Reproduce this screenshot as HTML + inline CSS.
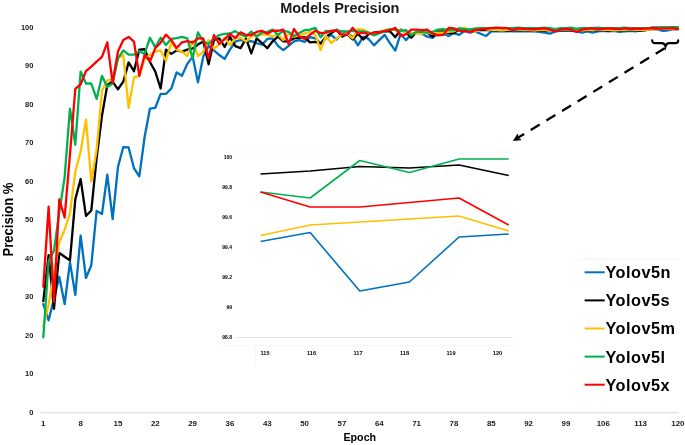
<!DOCTYPE html><html><head><meta charset="utf-8"><style>html,body{margin:0;padding:0;background:#fff;}svg{display:block;will-change:transform;}text{font-family:"Liberation Sans",sans-serif;}</style></head><body>
<svg width="685" height="445" viewBox="0 0 685 445">
<rect width="685" height="445" fill="#fff"/>
<text x="339.8" y="12.8" font-size="14.5" font-weight="bold" text-anchor="middle" fill="#1a1a1a">Models Precision</text>
<text transform="translate(12.9,219.5) rotate(-90) scale(0.92,1)" x="0" y="0" font-size="14.2" font-weight="bold" text-anchor="middle" fill="#000">Precision %</text>
<text x="33.4" y="414.6" font-size="7.5" font-weight="bold" text-anchor="end" fill="#1a1a1a">0</text>
<text x="33.4" y="376.1" font-size="7.5" font-weight="bold" text-anchor="end" fill="#1a1a1a">10</text>
<text x="33.4" y="337.6" font-size="7.5" font-weight="bold" text-anchor="end" fill="#1a1a1a">20</text>
<text x="33.4" y="299.1" font-size="7.5" font-weight="bold" text-anchor="end" fill="#1a1a1a">30</text>
<text x="33.4" y="260.6" font-size="7.5" font-weight="bold" text-anchor="end" fill="#1a1a1a">40</text>
<text x="33.4" y="222.1" font-size="7.5" font-weight="bold" text-anchor="end" fill="#1a1a1a">50</text>
<text x="33.4" y="183.6" font-size="7.5" font-weight="bold" text-anchor="end" fill="#1a1a1a">60</text>
<text x="33.4" y="145.1" font-size="7.5" font-weight="bold" text-anchor="end" fill="#1a1a1a">70</text>
<text x="33.4" y="106.6" font-size="7.5" font-weight="bold" text-anchor="end" fill="#1a1a1a">80</text>
<text x="33.4" y="68.1" font-size="7.5" font-weight="bold" text-anchor="end" fill="#1a1a1a">90</text>
<text x="33.4" y="29.6" font-size="7.5" font-weight="bold" text-anchor="end" fill="#1a1a1a">100</text>
<text x="43.3" y="425.8" font-size="7.9" font-weight="bold" text-anchor="middle" fill="#1a1a1a">1</text>
<text x="80.6" y="425.8" font-size="7.9" font-weight="bold" text-anchor="middle" fill="#1a1a1a">8</text>
<text x="118.0" y="425.8" font-size="7.9" font-weight="bold" text-anchor="middle" fill="#1a1a1a">15</text>
<text x="155.3" y="425.8" font-size="7.9" font-weight="bold" text-anchor="middle" fill="#1a1a1a">22</text>
<text x="192.6" y="425.8" font-size="7.9" font-weight="bold" text-anchor="middle" fill="#1a1a1a">29</text>
<text x="230.0" y="425.8" font-size="7.9" font-weight="bold" text-anchor="middle" fill="#1a1a1a">36</text>
<text x="267.3" y="425.8" font-size="7.9" font-weight="bold" text-anchor="middle" fill="#1a1a1a">43</text>
<text x="304.6" y="425.8" font-size="7.9" font-weight="bold" text-anchor="middle" fill="#1a1a1a">50</text>
<text x="341.9" y="425.8" font-size="7.9" font-weight="bold" text-anchor="middle" fill="#1a1a1a">57</text>
<text x="379.3" y="425.8" font-size="7.9" font-weight="bold" text-anchor="middle" fill="#1a1a1a">64</text>
<text x="416.6" y="425.8" font-size="7.9" font-weight="bold" text-anchor="middle" fill="#1a1a1a">71</text>
<text x="453.9" y="425.8" font-size="7.9" font-weight="bold" text-anchor="middle" fill="#1a1a1a">78</text>
<text x="491.3" y="425.8" font-size="7.9" font-weight="bold" text-anchor="middle" fill="#1a1a1a">85</text>
<text x="528.6" y="425.8" font-size="7.9" font-weight="bold" text-anchor="middle" fill="#1a1a1a">92</text>
<text x="565.9" y="425.8" font-size="7.9" font-weight="bold" text-anchor="middle" fill="#1a1a1a">99</text>
<text x="603.3" y="425.8" font-size="7.9" font-weight="bold" text-anchor="middle" fill="#1a1a1a">106</text>
<text x="640.6" y="425.8" font-size="7.9" font-weight="bold" text-anchor="middle" fill="#1a1a1a">113</text>
<text x="677.9" y="425.8" font-size="7.9" font-weight="bold" text-anchor="middle" fill="#1a1a1a">120</text>
<line x1="40.7" y1="412.6" x2="678.9" y2="412.6" stroke="#e0e0e0" stroke-width="1.2"/>
<text x="359.8" y="441.4" font-size="10.7" font-weight="bold" text-anchor="middle" fill="#000">Epoch</text>
<polyline points="43.30,304.12 48.63,320.29 53.97,298.73 59.30,276.78 64.63,304.12 69.97,262.15 75.30,294.88 80.63,235.59 85.96,277.94 91.30,265.23 96.63,210.95 101.96,214.03 107.30,174.75 112.63,219.03 117.96,167.06 123.30,147.03 128.63,147.42 133.96,168.21 139.29,176.30 144.63,137.02 149.96,108.53 155.29,107.77 160.63,93.90 165.96,93.90 171.29,88.52 176.62,72.35 181.96,75.81 187.29,63.88 192.62,56.56 197.96,82.36 203.29,56.56 208.62,45.78 213.96,50.40 219.29,55.02 224.62,58.87 229.95,49.63 235.29,41.55 240.62,40.00 245.95,41.55 251.29,41.16 256.62,43.05 261.95,44.78 267.29,38.93 272.62,38.35 277.95,45.93 283.29,50.05 288.62,45.93 293.95,41.28 299.28,40.12 304.62,41.85 309.95,37.19 315.28,38.35 320.62,43.05 325.95,38.35 331.28,34.85 336.62,39.54 341.95,33.69 347.28,33.11 352.61,36.62 357.95,45.36 363.28,36.62 368.61,38.93 373.95,45.36 379.28,40.12 384.61,34.85 389.95,43.05 395.28,50.63 400.61,33.69 405.94,40.12 411.28,34.27 416.61,32.54 421.94,33.69 427.28,36.62 432.61,37.77 437.94,33.69 443.28,33.69 448.61,36.04 453.94,33.11 459.27,34.85 464.61,30.77 469.94,32.54 475.27,31.34 480.61,33.69 485.94,36.04 491.27,31.34 496.61,31.11 501.94,31.34 507.27,31.11 512.60,31.34 517.94,31.34 523.27,31.11 528.60,31.34 533.94,31.34 539.27,31.92 544.60,32.54 549.93,33.69 555.27,31.34 560.60,30.77 565.93,30.77 571.27,30.77 576.60,31.34 581.93,32.54 587.27,31.34 592.60,32.54 597.93,31.34 603.26,30.77 608.60,31.34 613.93,30.77 619.26,31.92 624.60,31.34 629.93,30.77 635.26,31.34 640.60,30.42 645.93,30.19 651.26,29.46 656.60,29.23 661.93,30.73 667.26,30.50 672.59,29.34 677.93,29.26" fill="none" stroke="#0070C0" stroke-width="2.3" stroke-linejoin="round" stroke-linecap="round"/>
<polyline points="43.30,301.04 48.63,255.22 53.97,308.74 59.30,252.91 64.63,256.76 69.97,260.23 75.30,199.40 80.63,178.99 85.96,215.95 91.30,210.56 96.63,158.20 101.96,115.85 107.30,85.05 112.63,81.58 117.96,89.28 123.30,81.58 128.63,62.33 133.96,71.19 139.29,49.63 144.63,49.25 149.96,61.95 155.29,71.57 160.63,88.52 165.96,49.63 171.29,53.87 176.62,50.40 181.96,51.56 187.29,49.63 192.62,48.48 197.96,44.62 203.29,41.55 208.62,64.26 213.96,40.00 219.29,38.47 224.62,46.94 229.95,36.93 235.29,46.17 240.62,48.09 245.95,38.47 251.29,53.48 256.62,38.35 261.95,43.05 267.29,48.28 272.62,41.28 277.95,36.62 283.29,41.28 288.62,41.28 293.95,38.35 299.28,37.77 304.62,37.19 309.95,42.43 315.28,41.85 320.62,43.62 325.95,36.62 331.28,33.11 336.62,29.61 341.95,36.62 347.28,34.27 352.61,39.54 357.95,33.69 363.28,39.54 368.61,34.27 373.95,32.54 379.28,31.92 384.61,31.34 389.95,31.34 395.28,37.19 400.61,29.61 405.94,32.54 411.28,37.77 416.61,31.92 421.94,33.11 427.28,32.54 432.61,36.62 437.94,31.34 443.28,31.34 448.61,33.11 453.94,33.11 459.27,29.03 464.61,30.19 469.94,29.61 475.27,29.61 480.61,30.19 485.94,30.19 491.27,29.73 496.61,30.19 501.94,30.19 507.27,30.65 512.60,30.19 517.94,30.19 523.27,30.19 528.60,29.73 533.94,30.19 539.27,30.19 544.60,30.65 549.93,30.19 555.27,30.19 560.60,29.73 565.93,30.19 571.27,30.19 576.60,30.65 581.93,30.19 587.27,30.19 592.60,29.73 597.93,30.19 603.26,30.19 608.60,30.65 613.93,30.19 619.26,30.19 624.60,29.73 629.93,30.19 635.26,30.19 640.60,30.65 645.93,30.19 651.26,27.72 656.60,27.65 661.93,27.53 667.26,27.57 672.59,27.49 677.93,27.76" fill="none" stroke="#000000" stroke-width="2.3" stroke-linejoin="round" stroke-linecap="round"/>
<polyline points="43.30,326.06 48.63,304.50 53.97,273.70 59.30,242.13 64.63,229.81 69.97,213.25 75.30,171.68 80.63,151.65 85.96,119.70 91.30,181.69 96.63,149.73 101.96,90.82 107.30,80.43 112.63,79.27 117.96,58.10 123.30,55.02 128.63,107.77 133.96,77.35 139.29,75.81 144.63,58.48 149.96,55.02 155.29,51.56 160.63,50.40 165.96,60.80 171.29,42.31 176.62,49.63 181.96,51.56 187.29,56.18 192.62,41.16 197.96,56.18 203.29,51.56 208.62,40.00 213.96,48.48 219.29,44.62 224.62,37.69 229.95,45.01 235.29,38.47 240.62,37.69 245.95,41.55 251.29,36.54 256.62,34.85 261.95,34.27 267.29,34.85 272.62,36.62 277.95,34.27 283.29,40.12 288.62,33.46 293.95,36.62 299.28,35.42 304.62,33.69 309.95,31.34 315.28,34.85 320.62,50.05 325.95,36.04 331.28,43.05 336.62,38.35 341.95,34.85 347.28,33.69 352.61,38.35 357.95,29.03 363.28,29.61 368.61,32.54 373.95,33.69 379.28,32.54 384.61,30.19 389.95,29.61 395.28,30.19 400.61,30.19 405.94,33.11 411.28,33.11 416.61,33.69 421.94,33.69 427.28,32.54 432.61,33.69 437.94,32.54 443.28,32.54 448.61,31.92 453.94,31.34 459.27,28.42 464.61,27.84 469.94,30.19 475.27,31.92 480.61,27.84 485.94,29.26 491.27,29.84 496.61,29.84 501.94,30.42 507.27,29.84 512.60,29.84 517.94,29.26 523.27,29.84 528.60,29.84 533.94,30.42 539.27,29.84 544.60,29.84 549.93,29.84 555.27,29.84 560.60,29.84 565.93,29.26 571.27,29.84 576.60,29.84 581.93,30.42 587.27,29.84 592.60,29.84 597.93,29.26 603.26,29.84 608.60,29.84 613.93,30.42 619.26,29.84 624.60,29.84 629.93,29.26 635.26,29.84 640.60,29.84 645.93,29.84 651.26,29.30 656.60,29.03 661.93,28.96 667.26,28.88 672.59,28.80 677.93,29.19" fill="none" stroke="#FFC000" stroke-width="2.3" stroke-linejoin="round" stroke-linecap="round"/>
<polyline points="43.30,337.23 48.63,261.00 53.97,250.60 59.30,212.10 64.63,177.45 69.97,108.53 75.30,144.73 80.63,71.57 85.96,83.51 91.30,83.51 96.63,98.91 101.96,75.81 107.30,86.98 112.63,83.51 117.96,58.48 123.30,50.40 128.63,54.63 133.96,54.63 139.29,51.17 144.63,53.87 149.96,37.69 155.29,47.32 160.63,37.69 165.96,45.01 171.29,38.85 176.62,38.08 181.96,36.93 187.29,38.47 192.62,58.48 197.96,32.31 203.29,41.55 208.62,43.86 213.96,38.47 219.29,35.00 224.62,33.85 229.95,33.46 235.29,31.15 240.62,34.62 245.95,36.54 251.29,31.53 256.62,36.62 261.95,32.54 267.29,31.92 272.62,29.61 277.95,34.85 283.29,30.77 288.62,31.92 293.95,36.04 299.28,33.11 304.62,30.19 309.95,29.61 315.28,27.84 320.62,37.31 325.95,30.77 331.28,31.34 336.62,30.19 341.95,31.34 347.28,31.34 352.61,30.77 357.95,31.34 363.28,31.34 368.61,32.54 373.95,35.42 379.28,33.11 384.61,31.34 389.95,29.03 395.28,29.61 400.61,30.77 405.94,30.19 411.28,35.42 416.61,31.34 421.94,31.92 427.28,32.54 432.61,31.92 437.94,29.61 443.28,29.03 448.61,30.19 453.94,30.19 459.27,28.42 464.61,29.03 469.94,29.61 475.27,28.42 480.61,28.07 485.94,28.07 491.27,28.07 496.61,27.61 501.94,28.07 507.27,28.07 512.60,28.07 517.94,27.61 523.27,28.07 528.60,28.07 533.94,28.07 539.27,28.07 544.60,27.61 549.93,28.07 555.27,29.03 560.60,28.07 565.93,28.07 571.27,27.61 576.60,28.76 581.93,28.07 587.27,28.07 592.60,28.07 597.93,27.61 603.26,28.07 608.60,28.07 613.93,28.07 619.26,28.07 624.60,27.61 629.93,28.07 635.26,28.07 640.60,28.07 645.93,28.07 651.26,28.19 656.60,28.34 661.93,27.38 667.26,27.69 672.59,27.34 677.93,27.34" fill="none" stroke="#00B050" stroke-width="2.3" stroke-linejoin="round" stroke-linecap="round"/>
<polyline points="43.30,286.79 48.63,206.71 53.97,301.81 59.30,199.40 64.63,217.49 69.97,154.35 75.30,88.90 80.63,84.28 85.96,71.19 91.30,66.57 96.63,61.56 101.96,56.94 107.30,42.31 112.63,82.74 117.96,51.56 123.30,40.00 128.63,36.93 133.96,41.55 139.29,75.81 144.63,55.02 149.96,61.56 155.29,48.09 160.63,42.70 165.96,34.62 171.29,40.00 176.62,48.09 181.96,42.31 187.29,41.16 192.62,42.70 197.96,38.47 203.29,38.47 208.62,58.48 213.96,35.00 219.29,43.86 224.62,39.23 229.95,33.85 235.29,38.08 240.62,32.31 245.95,35.00 251.29,35.00 256.62,31.92 261.95,30.77 267.29,33.69 272.62,30.77 277.95,30.77 283.29,29.61 288.62,44.20 293.95,29.03 299.28,36.62 304.62,38.93 309.95,34.85 315.28,30.77 320.62,33.11 325.95,32.54 331.28,30.77 336.62,30.77 341.95,34.62 347.28,34.62 352.61,27.84 357.95,33.69 363.28,32.54 368.61,34.27 373.95,32.54 379.28,32.54 384.61,30.77 389.95,30.19 395.28,27.84 400.61,36.04 405.94,34.27 411.28,29.61 416.61,29.61 421.94,30.19 427.28,29.61 432.61,33.69 437.94,35.42 443.28,34.85 448.61,27.84 453.94,28.42 459.27,30.77 464.61,31.34 469.94,31.92 475.27,30.19 480.61,29.26 485.94,28.76 491.27,28.19 496.61,27.84 501.94,27.84 507.27,28.19 512.60,30.19 517.94,28.42 523.27,28.76 528.60,29.03 533.94,29.26 539.27,28.76 544.60,28.42 549.93,29.61 555.27,31.34 560.60,29.61 565.93,28.76 571.27,29.61 576.60,31.92 581.93,29.61 587.27,28.76 592.60,28.42 597.93,29.03 603.26,28.76 608.60,28.42 613.93,28.76 619.26,29.03 624.60,28.42 629.93,28.76 635.26,28.53 640.60,28.76 645.93,28.65 651.26,28.19 656.60,28.57 661.93,28.57 667.26,28.45 672.59,28.34 677.93,29.03" fill="none" stroke="#FF0000" stroke-width="2.3" stroke-linejoin="round" stroke-linecap="round"/>
<line x1="222" y1="152" x2="512.5" y2="152" stroke="#f5f5f5" stroke-width="1"/>
<line x1="222" y1="345.5" x2="513.6" y2="345.5" stroke="#f6f6f6" stroke-width="1"/>
<line x1="255.5" y1="347" x2="255.5" y2="366" stroke="#f7f7f7" stroke-width="1"/>
<line x1="236.6" y1="337.5" x2="512.9" y2="337.5" stroke="#e3e3e3" stroke-width="0.9"/>
<text x="232" y="159.3" font-size="5" font-weight="bold" text-anchor="end" fill="#000">100</text>
<text x="232" y="189.3" font-size="5" font-weight="bold" text-anchor="end" fill="#000">99.8</text>
<text x="232" y="219.3" font-size="5" font-weight="bold" text-anchor="end" fill="#000">99.6</text>
<text x="232" y="249.3" font-size="5" font-weight="bold" text-anchor="end" fill="#000">99.4</text>
<text x="232" y="279.3" font-size="5" font-weight="bold" text-anchor="end" fill="#000">99.2</text>
<text x="232" y="309.3" font-size="5" font-weight="bold" text-anchor="end" fill="#000">99</text>
<text x="232" y="339.3" font-size="5" font-weight="bold" text-anchor="end" fill="#000">98.8</text>
<text x="265.0" y="355.4" font-size="5.6" font-weight="bold" text-anchor="middle" fill="#000">115</text>
<text x="311.5" y="355.4" font-size="5.6" font-weight="bold" text-anchor="middle" fill="#000">116</text>
<text x="358.0" y="355.4" font-size="5.6" font-weight="bold" text-anchor="middle" fill="#000">117</text>
<text x="404.5" y="355.4" font-size="5.6" font-weight="bold" text-anchor="middle" fill="#000">118</text>
<text x="451.0" y="355.4" font-size="5.6" font-weight="bold" text-anchor="middle" fill="#000">119</text>
<text x="497.5" y="355.4" font-size="5.6" font-weight="bold" text-anchor="middle" fill="#000">120</text>
<polyline points="260.50,241.50 310.14,232.50 359.78,291.00 409.42,282.00 459.06,237.00 508.70,234.00" fill="none" stroke="#0070C0" stroke-width="1.6" stroke-linejoin="round"/>
<polyline points="260.50,174.00 310.14,171.00 359.78,166.50 409.42,168.00 459.06,165.00 508.70,175.50" fill="none" stroke="#000000" stroke-width="1.6" stroke-linejoin="round"/>
<polyline points="260.50,235.50 310.14,225.00 359.78,222.00 409.42,219.00 459.06,216.00 508.70,231.00" fill="none" stroke="#FFC000" stroke-width="1.6" stroke-linejoin="round"/>
<polyline points="260.50,192.00 310.14,198.00 359.78,160.50 409.42,172.50 459.06,159.00 508.70,159.00" fill="none" stroke="#00B050" stroke-width="1.6" stroke-linejoin="round"/>
<polyline points="260.50,192.00 310.14,207.00 359.78,207.00 409.42,202.50 459.06,198.00 508.70,225.00" fill="none" stroke="#FF0000" stroke-width="1.6" stroke-linejoin="round"/>
<line x1="578" y1="259.2" x2="680" y2="259.2" stroke="#f2f2f2" stroke-width="1"/>
<line x1="584.6" y1="272.3" x2="604.7" y2="272.3" stroke="#0070C0" stroke-width="2"/>
<text x="605.4" y="278.2" font-size="16.3" font-weight="bold" letter-spacing="0.5" fill="#000">Yolov5n</text>
<line x1="584.6" y1="300.4" x2="604.7" y2="300.4" stroke="#000000" stroke-width="2"/>
<text x="605.4" y="306.3" font-size="16.3" font-weight="bold" letter-spacing="0.5" fill="#000">Yolov5s</text>
<line x1="584.6" y1="328.5" x2="604.7" y2="328.5" stroke="#FFC000" stroke-width="2"/>
<text x="605.4" y="334.4" font-size="16.3" font-weight="bold" letter-spacing="0.5" fill="#000">Yolov5m</text>
<line x1="584.6" y1="356.6" x2="604.7" y2="356.6" stroke="#00B050" stroke-width="2"/>
<text x="605.4" y="362.5" font-size="16.3" font-weight="bold" letter-spacing="0.5" fill="#000">Yolov5l</text>
<line x1="584.6" y1="384.7" x2="604.7" y2="384.7" stroke="#FF0000" stroke-width="2"/>
<text x="605.4" y="390.6" font-size="16.3" font-weight="bold" letter-spacing="0.5" fill="#000">Yolov5x</text>
<path d="M652.2,40.2 C652.2,42.5 653,43.1 655.5,43.1 L662,43.1 C664,43.1 665,44.6 665.5,46.5 C666,44.6 667,43.1 669,43.1 L675.5,43.1 C677.6,43.1 678.2,42.3 678.2,40.4" fill="none" stroke="#000" stroke-width="2.1" stroke-linecap="round"/>
<line x1="665.3" y1="47.9" x2="517.5" y2="138.1" stroke="#000" stroke-width="2.3" stroke-dasharray="10.5 7.8" stroke-dashoffset="-0.7"/>
<path d="M513.6,140.5 L517.7,134.1 L517.7,138.0 L521.1,139.8 Z" fill="#000" stroke="#000" stroke-width="0.8" stroke-linejoin="round"/>
</svg></body></html>
